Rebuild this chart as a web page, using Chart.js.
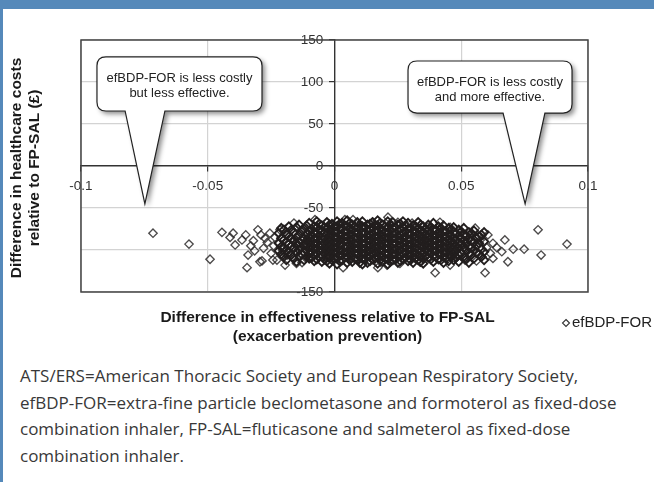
<!DOCTYPE html>
<html>
<head>
<meta charset="utf-8">
<script src="https://cdn.jsdelivr.net/npm/chart.js@4/dist/chart.umd.min.js"></script>
<style>
  html, body { margin: 0; padding: 0; background: #fff; }
  body { width: 654px; height: 482px; position: relative; overflow: hidden; }
  #band { position: absolute; left: 0; top: 0; width: 654px; height: 9px; background: #5589ba; }
  #edge { position: absolute; left: 0; top: 9px; width: 3px; height: 473px; background: #5589ba; }
  #plot { position: absolute; left: 0; top: 0; }
  #caption {
    position: absolute; left: 20px; top: 363px; width: 640px; white-space: nowrap;
    font-family: "Open Sans", sans-serif; font-size: 17px; line-height: 26.5px; color: #383838;
  }
</style>
</head>
<body>
<div id="band"></div>
<div id="edge"></div>
<canvas id="plot" width="654" height="350"></canvas>
<div id="caption">ATS/ERS=American Thoracic Society and European Respiratory Society,<br>efBDP-FOR=extra-fine particle beclometasone and formoterol as fixed-dose<br>combination inhaler, FP-SAL=fluticasone and salmeterol as fixed-dose<br>combination inhaler.</div>

<script>
// ---------- data ----------
const seriesName = 'efBDP-FOR';

const xTicks = [-0.1, -0.05, 0, 0.05, 0.1];
const xTickLabels = ['-0.1', '-0.05', '0', '0.05', '0.1'];
const yTicks = [-150, -100, -50, 0, 50, 100, 150];
const yTickLabels = ['-150', '', '-50', '0', '50', '100', '150'];

const xTitle = ['Difference in effectiveness relative to FP-SAL', '(exacerbation prevention)'];
const yTitle = ['Difference in healthcare costs', 'relative to FP-SAL (£)'];

// isolated simulations around the cloud
const outlierPoints = [
    [-0.0716, -80], [-0.0574, -93], [-0.0491, -111], [-0.0444, -79], [-0.0412, -85],
    [-0.0400, -80], [-0.0392, -94], [-0.0365, -88], [-0.0350, -82], [-0.0345, -121],
    [-0.0341, -106], [-0.0330, -95], [-0.0320, -89], [-0.0315, -101], [-0.0302, -76],
    [-0.0294, -114], [-0.0290, -82], [-0.0286, -113], [-0.0280, -98], [-0.0274, -86],
    [-0.0265, -91], [-0.0255, -80], [-0.0250, -104], [-0.0243, -112], [-0.0240, -95],
    [-0.0235, -85], [-0.0227, -112], [-0.0215, -76], [-0.0205, -100], [-0.0195, -118],
    [-0.0187, -106], [-0.0160, -68], [-0.0150, -116], [-0.0128, -115], [-0.0077, -64],
    [0.0041, -64], [0.0073, -64], [0.0152, -67], [0.0211, -61], [0.0250, -67],
    [0.0306, -68], [0.0365, -73], [0.0416, -67], [0.0456, -73],
    [0.0034, -121], [0.0171, -121], [0.0207, -118], [0.0258, -116], [0.0337, -114],
    [0.0397, -127], [0.0456, -118], [0.0515, -112], [0.0594, -127],
    [0.0535, -84], [0.0555, -74], [0.0560, -113], [0.0575, -88], [0.0600, -97],
    [0.0605, -82], [0.0615, -104], [0.0640, -97],
    [0.0625, -92], [0.0625, -110], [0.0660, -102], [0.0672, -88], [0.0684, -114],
    [0.0705, -99], [0.0748, -99], [0.0803, -76], [0.0815, -106], [0.0917, -93]
];

// dense core, one column of costs per effectiveness value
const coreColumns = [
    [-0.022, [-80, -92, -101]],
    [-0.020, [-76, -88, -97, -108]],
    [-0.018, [-72, -84, -93, -103]],
    [-0.016, [-79, -89, -98, -110]],
    [-0.014, [-70, -82, -91, -100, -107]],
    [-0.012, [-75, -86, -94, -103, -112]],
    [-0.010, [-68, -78, -85, -91, -97, -104, -110]],
    [-0.008, [-72, -80, -87, -93, -99, -106, -113]],
    [-0.006, [-69, -76, -83, -89, -95, -101, -108]],
    [-0.004, [-73, -79, -85, -92, -98, -104, -111]],
    [-0.002, [-70, -77, -84, -90, -96, -102, -109, -116]],
    [0.000, [-72, -78, -85, -91, -97, -103, -110]],
    [0.002, [-69, -75, -82, -88, -94, -100, -106, -113]],
    [0.004, [-71, -78, -84, -90, -97, -103, -109]],
    [0.006, [-68, -74, -81, -87, -93, -99, -105, -112]],
    [0.008, [-72, -79, -85, -92, -98, -104, -110]],
    [0.010, [-70, -76, -83, -89, -95, -101, -108, -115]],
    [0.012, [-73, -80, -86, -92, -99, -105, -111]],
    [0.014, [-69, -75, -82, -88, -94, -100, -107, -113]],
    [0.016, [-71, -78, -84, -91, -97, -103, -110]],
    [0.018, [-68, -74, -81, -87, -93, -100, -106, -112]],
    [0.020, [-72, -79, -85, -91, -98, -104, -110]],
    [0.022, [-70, -76, -83, -89, -95, -101, -108, -114]],
    [0.024, [-73, -80, -86, -92, -99, -105, -111]],
    [0.026, [-69, -75, -82, -88, -94, -100, -107, -113]],
    [0.028, [-71, -78, -84, -91, -97, -103, -109]],
    [0.030, [-74, -81, -87, -93, -100, -106, -112]],
    [0.032, [-72, -79, -85, -92, -98, -104, -110]],
    [0.034, [-70, -77, -83, -89, -95, -102, -108, -114]],
    [0.036, [-75, -82, -88, -94, -100, -107]],
    [0.038, [-73, -80, -86, -92, -98, -104, -111]],
    [0.040, [-76, -83, -89, -95, -101, -108]],
    [0.042, [-74, -81, -87, -93, -99, -106, -112]],
    [0.044, [-78, -85, -91, -97, -103, -110]],
    [0.046, [-76, -83, -90, -96, -102, -108]],
    [0.048, [-80, -88, -95, -101, -109]],
    [0.050, [-78, -86, -93, -104]],
    [0.052, [-83, -92, -100, -111]],
    [0.054, [-80, -89, -97, -106]],
    [0.056, [-86, -95, -103]],
    [0.058, [-82, -99, -108]]
];

// second layer of the core, sitting between the columns above
const coreColumnsB = [
    [-0.021, [-74, -86, -96, -105]],
    [-0.019, [-81, -91, -100, -112]],
    [-0.017, [-76, -87, -95, -106]],
    [-0.015, [-73, -85, -94, -103, -114]],
    [-0.013, [-78, -88, -97, -105]],
    [-0.011, [-71, -81, -89, -95, -100, -108]],
    [-0.009, [-75, -82, -89, -96, -102, -109]],
    [-0.007, [-66, -73, -80, -86, -92, -98, -104, -111]],
    [-0.005, [-71, -77, -87, -94, -100, -106, -114]],
    [-0.003, [-67, -74, -81, -88, -94, -100, -107, -113]],
    [-0.001, [-69, -75, -81, -88, -94, -100, -106, -112]],
    [0.001, [-66, -72, -79, -86, -92, -98, -104, -110, -117]],
    [0.003, [-68, -74, -81, -87, -93, -100, -106, -112]],
    [0.005, [-65, -72, -78, -84, -90, -96, -102, -108, -115]],
    [0.007, [-70, -76, -82, -89, -95, -101, -107, -114]],
    [0.009, [-67, -73, -80, -86, -92, -98, -105, -111]],
    [0.011, [-66, -72, -79, -86, -92, -98, -104, -110, -117]],
    [0.013, [-70, -77, -83, -89, -96, -102, -108, -115]],
    [0.015, [-67, -73, -80, -86, -92, -98, -104, -111]],
    [0.017, [-65, -71, -78, -84, -90, -96, -103, -109, -116]],
    [0.019, [-70, -77, -83, -89, -95, -101, -108, -114]],
    [0.021, [-66, -73, -80, -86, -92, -98, -105, -111, -117]],
    [0.023, [-67, -74, -80, -86, -93, -99, -105, -112]],
    [0.025, [-70, -77, -83, -89, -96, -102, -108, -115]],
    [0.027, [-66, -73, -80, -86, -92, -98, -104, -111]],
    [0.029, [-68, -75, -81, -88, -94, -100, -106, -113]],
    [0.031, [-71, -77, -84, -90, -96, -102, -108, -115]],
    [0.033, [-67, -74, -81, -87, -93, -99, -106, -112]],
    [0.035, [-72, -79, -85, -91, -97, -104, -110, -116]],
    [0.037, [-70, -77, -84, -90, -96, -102, -109]],
    [0.039, [-68, -76, -83, -89, -95, -101, -107, -114]],
    [0.041, [-72, -79, -85, -92, -98, -104, -111]],
    [0.043, [-71, -78, -84, -90, -96, -102, -108, -115]],
    [0.045, [-74, -81, -87, -94, -100, -106, -113]],
    [0.047, [-73, -79, -86, -92, -99, -105, -112]],
    [0.049, [-76, -84, -91, -98, -106, -114]],
    [0.051, [-74, -82, -89, -97, -108]],
    [0.053, [-79, -87, -96, -104, -115]],
    [0.055, [-77, -91, -100, -110]],
    [0.057, [-84, -92, -105]],
    [0.059, [-79, -90, -102, -112]]
];

// speech-bubble notes: box corners, tail base and tip in data units
const callouts = [
    { lines: ['efBDP-FOR is less costly', 'but less effective.'],
      x0: -0.0937, x1: -0.0286, y0: 130, y1: 65.5, tailA: -0.0826, tailB: -0.0669, tipX: -0.0748, tipY: -45 },
    { lines: ['efBDP-FOR is less costly', 'and more effective.'],
      x0: 0.0290, x1: 0.0937, y0: 125, y1: 63, tailA: 0.0665, tailB: 0.0830, tipX: 0.0752, tipY: -45 }
];

// ---------- build ----------
const edgeData = outlierPoints.map(p => ({ x: p[0], y: p[1] }));
const coreData = [];
coreColumns.concat(coreColumnsB).forEach(col => {
    col[1].forEach(y => coreData.push({ x: col[0], y: y }));
});

const FONT = '"Liberation Sans", Arial, sans-serif';

function roundedBubble(ctx, l, t, r, b, rad, ta, tb, tx, ty) {
    ctx.beginPath();
    ctx.moveTo(l + rad, t);
    ctx.lineTo(r - rad, t);
    ctx.quadraticCurveTo(r, t, r, t + rad);
    ctx.lineTo(r, b - rad);
    ctx.quadraticCurveTo(r, b, r - rad, b);
    ctx.lineTo(tb, b);
    ctx.lineTo(tx, ty);
    ctx.lineTo(ta, b);
    ctx.lineTo(l + rad, b);
    ctx.quadraticCurveTo(l, b, l, b - rad);
    ctx.lineTo(l, t + rad);
    ctx.quadraticCurveTo(l, t, l + rad, t);
    ctx.closePath();
}

const decorations = {
    id: 'decorations',
    beforeDatasetsDraw(chart) {
        const { ctx, chartArea: a } = chart;
        ctx.save();
        ctx.strokeStyle = '#444';
        ctx.lineWidth = 1.5;
        ctx.strokeRect(a.left, a.top, a.right - a.left, a.bottom - a.top);
        ctx.restore();
    },
    afterDraw(chart) {
        const { ctx, chartArea: a, scales: { x, y } } = chart;
        ctx.save();

        // callouts
        callouts.forEach(c => {
            const l = x.getPixelForValue(c.x0), r = x.getPixelForValue(c.x1);
            const t = y.getPixelForValue(c.y0), b = y.getPixelForValue(c.y1);
            const ta = x.getPixelForValue(c.tailA), tb = x.getPixelForValue(c.tailB);
            const tx = x.getPixelForValue(c.tipX), ty = y.getPixelForValue(c.tipY);
            ctx.save();
            ctx.shadowColor = 'rgba(0,0,0,0.45)';
            ctx.shadowBlur = 5;
            ctx.shadowOffsetX = 3;
            ctx.shadowOffsetY = 3;
            roundedBubble(ctx, l, t, r, b, 9, ta, tb, tx, ty);
            ctx.fillStyle = '#fff';
            ctx.fill();
            ctx.restore();
            roundedBubble(ctx, l, t, r, b, 9, ta, tb, tx, ty);
            ctx.strokeStyle = '#222';
            ctx.lineWidth = 1.2;
            ctx.stroke();
            ctx.fillStyle = '#222';
            ctx.font = '13px ' + FONT;
            ctx.textAlign = 'center';
            ctx.textBaseline = 'middle';
            const cx = (l + r) / 2, cy = (t + b) / 2;
            ctx.fillText(c.lines[0], cx, cy - 5);
            ctx.fillText(c.lines[1], cx, cy + 10);
        });

        // axis titles
        ctx.fillStyle = '#1a1a1a';
        ctx.font = 'bold 15.5px ' + FONT;
        ctx.textAlign = 'center';
        ctx.textBaseline = 'middle';
        const mx = (a.left + a.right) / 2;
        ctx.fillText(xTitle[0], mx - 7, a.bottom + 26);
        ctx.fillText(xTitle[1], mx - 7, a.bottom + 45);
        ctx.save();
        ctx.translate(17, (a.top + a.bottom) / 2 + 2);
        ctx.rotate(-Math.PI / 2);
        ctx.font = 'bold 15.5px ' + FONT;
        ctx.fillText(yTitle[0], 0, 0);
        ctx.fillText(yTitle[1], 0, 18);
        ctx.restore();

        // legend
        const lx = 566, ly = 323;
        ctx.beginPath();
        ctx.moveTo(lx, ly - 3.5);
        ctx.lineTo(lx + 3.5, ly);
        ctx.lineTo(lx, ly + 3.5);
        ctx.lineTo(lx - 3.5, ly);
        ctx.closePath();
        ctx.strokeStyle = '#333';
        ctx.lineWidth = 1.1;
        ctx.stroke();
        ctx.fillStyle = '#222';
        ctx.font = '15px ' + FONT;
        ctx.textAlign = 'left';
        ctx.fillText(seriesName, lx + 6, ly);
        ctx.restore();
    }
};

const gridColor = (c) => (c.tick && c.tick.value === 0) ? 'rgba(0,0,0,0)' : '#d3d3d3';

const pointLook = {
    pointStyle: 'rectRot',
    pointRadius: 4.2,
    pointHoverRadius: 4.2,
    backgroundColor: 'rgba(0,0,0,0)'
};

new Chart(document.getElementById('plot'), {
    type: 'scatter',
    data: {
        datasets: [
            Object.assign({ label: seriesName, data: coreData, borderWidth: 1.9, borderColor: '#221e1e' }, pointLook),
            Object.assign({ label: seriesName, data: edgeData, borderWidth: 1.35, borderColor: 'rgba(45,42,42,0.85)' }, pointLook)
        ]
    },
    options: {
        responsive: false,
        animation: false,
        events: [],
        layout: { padding: { left: 81, top: 40, right: 66, bottom: 58 } },
        plugins: { legend: { display: false }, tooltip: { enabled: false } },
        scales: {
            x: {
                type: 'linear',
                min: -0.1, max: 0.1,
                position: { y: 0 },
                afterBuildTicks: s => { s.ticks = xTicks.map(v => ({ value: v })); },
                ticks: {
                    callback: (v, i) => xTickLabels[i],
                    color: '#333',
                    font: { family: FONT, size: 13.5 },
                    maxRotation: 0,
                    padding: 7
                },
                grid: { color: gridColor, tickColor: '#333', tickLength: 5, lineWidth: 1.2 },
                border: { color: '#333', width: 1.4 }
            },
            y: {
                type: 'linear',
                min: -150, max: 150,
                position: { x: 0 },
                afterBuildTicks: s => { s.ticks = yTicks.map(v => ({ value: v })); },
                ticks: {
                    // trailing gap keeps the label clear of the centred axis line
                    callback: (v, i) => yTickLabels[i] ? yTickLabels[i] + '   ' : '',
                    color: '#333',
                    font: { family: FONT, size: 13.5 },
                    padding: 4
                },
                grid: { color: gridColor, tickColor: '#333', tickLength: 5, lineWidth: 1.2 },
                border: { color: '#333', width: 1.4 }
            }
        }
    },
    plugins: [decorations]
});
</script>
</body>
</html>
